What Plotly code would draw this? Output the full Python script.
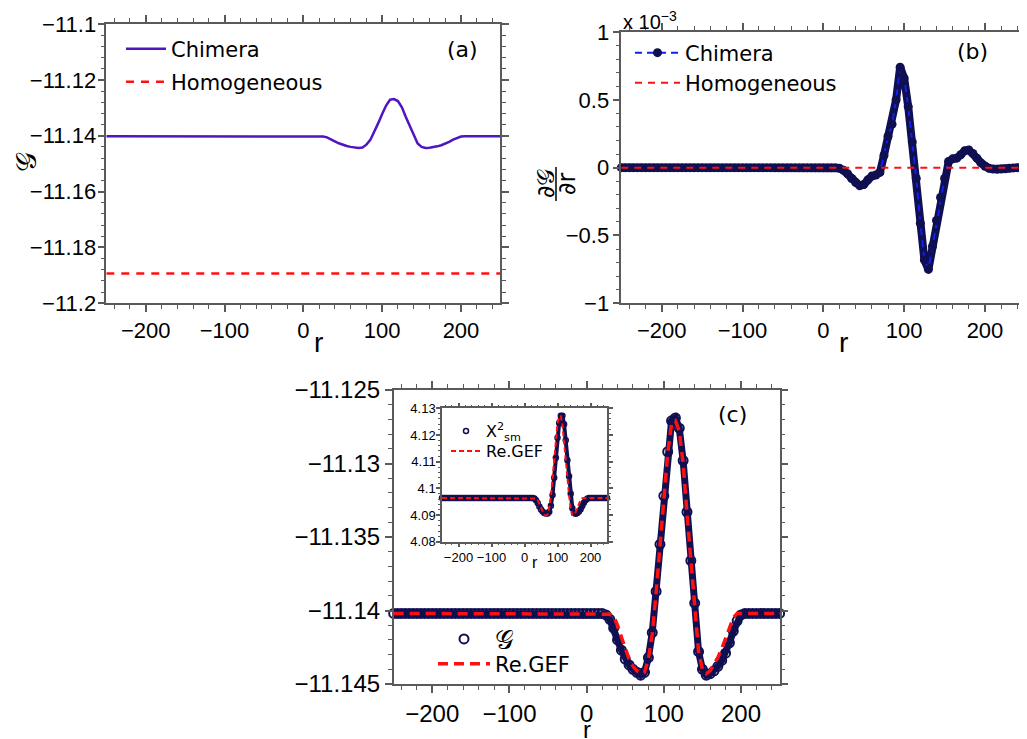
import plotly.graph_objects as go

# page body has an 8px margin: figure is drawn 8px right/down of the window origin
OFF = 8
W, H = 1027 - OFF, 739 - OFF

# sampling positions along r
r = list(range(-250, 251, 5))

# Panel (a)/(c): G (chimera)
G_chimera = [-11.1402] * 54 + [
    -11.1402, -11.1403, -11.1406, -11.1412, -11.1420, -11.1427, -11.1433, -11.1437,
    -11.1440, -11.1442, -11.1444, -11.1442, -11.1432, -11.1415, -11.1387, -11.1355,
    -11.1322, -11.1292, -11.1271, -11.1269, -11.1276, -11.1298, -11.1333, -11.1366,
    -11.1395, -11.1428, -11.1440, -11.1444, -11.1443, -11.1441, -11.1438, -11.1434,
    -11.1429, -11.1422, -11.1414, -11.1407, -11.1403] + [-11.1402] * 10

G_homog = [-11.1893] * len(r)

# Panel (c): Re.GEF fit
G_gef = [-11.1402] * 56 + [
    -11.14025, -11.1404, -11.1410, -11.1418, -11.1426, -11.1433, -11.1438, -11.1441,
    -11.1443, -11.1442, -11.1433, -11.1416, -11.1388, -11.1356, -11.1323, -11.1293,
    -11.1273, -11.1271, -11.1278, -11.1300, -11.1334, -11.1367, -11.1396, -11.1428,
    -11.1440, -11.1443, -11.1441, -11.1437, -11.1432, -11.1426, -11.1419, -11.1411,
    -11.1405] + [-11.1402] * 12

# Panel (b): dG/dr (units of 1e-3)
dG = [0.0] * 54 + [
    -0.005, -0.02, -0.045, -0.08, -0.11, -0.133, -0.125, -0.09, -0.062, -0.055,
    -0.035, 0.09, 0.23, 0.32, 0.5, 0.74, 0.66, 0.45, 0.19, -0.08, -0.41, -0.68,
    -0.75, -0.58, -0.39, -0.22, -0.08, 0.045, 0.065, 0.07, 0.095, 0.125, 0.13,
    0.105, 0.07, 0.035, 0.01, -0.005, -0.01, -0.012, -0.01, -0.008, -0.005,
    -0.002, 0.0, 0.0, 0.0]
dG_homog = [0.0] * len(r)

# Inset: X^2_sm and Re.GEF
X2_sm = [4.0964] * 56 + [
    4.0962, 4.0955, 4.0945, 4.0932, 4.0921, 4.0913, 4.0908, 4.0906, 4.0906, 4.0912,
    4.0935, 4.0975, 4.1040, 4.1115, 4.1190, 4.1245, 4.1272, 4.1272, 4.1240, 4.1180,
    4.1105, 4.1045, 4.0980, 4.0925, 4.0908, 4.0905, 4.0908, 4.0913, 4.0922, 4.0934,
    4.0946, 4.0955, 4.0961] + [4.0964] * 12
X2_gef = [4.0964] * 57 + [
    4.0962, 4.0955, 4.0942, 4.0927, 4.0912, 4.0902, 4.0898, 4.0902, 4.0928, 4.0970,
    4.1038, 4.1113, 4.1188, 4.1243, 4.1270, 4.1270, 4.1238, 4.1180, 4.1108, 4.1040,
    4.0975, 4.0925, 4.0900, 4.0900, 4.0910, 4.0928, 4.0945, 4.0957, 4.0963] + [4.0964] * 15

NAVY = '#0f0f52'
PURPLE = '#5014c0'
RED = '#ff1010'
AX = '#5a5a5a'
TICKF = 'Liberation Sans, Arial, sans-serif'
TXTF = 'DejaVu Sans, sans-serif'

fig = go.Figure()

# (a)
fig.add_trace(go.Scatter(x=r, y=G_chimera, mode='lines', name='Chimera',
                         line=dict(color=PURPLE, width=2.5), xaxis='x', yaxis='y', legend='legend'))
fig.add_trace(go.Scatter(x=r, y=G_homog, mode='lines', name='Homogeneous',
                         line=dict(color=RED, width=2.5, dash='8px,7px'), xaxis='x', yaxis='y', legend='legend2'))
# (b)
fig.add_trace(go.Scatter(x=r, y=dG, mode='lines', showlegend=False, cliponaxis=False,
                         line=dict(color=NAVY, width=8), xaxis='x2', yaxis='y2'))
fig.add_trace(go.Scatter(x=r, y=dG, mode='lines+markers', name='Chimera', cliponaxis=False,
                         line=dict(color='#1020ee', width=2, dash='7px,5px'),
                         marker=dict(color=NAVY, size=9), xaxis='x2', yaxis='y2', legend='legend3'))
fig.add_trace(go.Scatter(x=r, y=dG_homog, mode='lines', name='Homogeneous',
                         line=dict(color=RED, width=2, dash='7px,6px'), xaxis='x2', yaxis='y2', legend='legend4'))
# (c)
fig.add_trace(go.Scatter(x=r, y=G_chimera, mode='lines', showlegend=False, cliponaxis=False,
                         line=dict(color=NAVY, width=7), xaxis='x3', yaxis='y3'))
fig.add_trace(go.Scatter(x=r, y=G_chimera, mode='markers', name='𝒢', cliponaxis=False,
                         marker=dict(color=NAVY, size=9, symbol='circle-open', line=dict(color=NAVY, width=2)),
                         xaxis='x3', yaxis='y3', legend='legend5'))
fig.add_trace(go.Scatter(x=r, y=G_gef, mode='lines', name='Re.GEF',
                         line=dict(color=RED, width=3.5, dash='10px,6px'), xaxis='x3', yaxis='y3', legend='legend6'))
# inset
fig.add_trace(go.Scatter(x=r, y=X2_sm, mode='lines', showlegend=False, cliponaxis=False,
                         line=dict(color=NAVY, width=4), xaxis='x4', yaxis='y4'))
fig.add_trace(go.Scatter(x=r, y=X2_sm, mode='markers', name='X<sup>2</sup><sub>sm</sub>', cliponaxis=False,
                         marker=dict(color=NAVY, size=5, symbol='circle-open', line=dict(color=NAVY, width=1.5)),
                         xaxis='x4', yaxis='y4', legend='legend7'))
fig.add_trace(go.Scatter(x=r, y=X2_gef, mode='lines', name='Re.GEF',
                         line=dict(color=RED, width=2, dash='5px,3px'), xaxis='x4', yaxis='y4', legend='legend8'))


def px_x(p):
    return (p - OFF) / W


def px_y(p):
    return 1 - (p - OFF) / H


def axis(domain, rng, dtick, minor, anchor, fs, tl=7, mtl=4, so=0):
    return dict(domain=domain, range=rng, dtick=dtick, tick0=0, anchor=anchor, automargin=False,
                showline=True, linecolor=AX, linewidth=1.5, mirror='allticks',
                ticks='outside', ticklen=tl, tickwidth=1.5, tickcolor=AX,
                minor=dict(dtick=minor, ticks='outside', ticklen=mtl, tickwidth=1.2, tickcolor=AX),
                showgrid=False, zeroline=False, ticklabelstandoff=so,
                tickfont=dict(family=TICKF, size=fs, color='black'))


def leg(x, y, size, iw=40):
    return dict(x=px_x(x), y=px_y(y), xanchor='left', yanchor='middle', bgcolor='rgba(0,0,0,0)',
                itemwidth=iw, font=dict(family=TXTF, size=size, color='black'))


fig.update_layout(
    template='none',
    width=W, height=H, margin=dict(l=0, r=0, t=0, b=0, pad=0),
    paper_bgcolor='white', plot_bgcolor='white', showlegend=True,
    xaxis=axis([px_x(106.3), px_x(500.4)], [-250, 250], 100, 20, 'y', 22),
    yaxis=axis([px_y(303.3), px_y(24)], [-11.2, -11.1], 0.02, 0.004, 'x', 22, so=-3),
    xaxis2=axis([px_x(621.3), px_x(1025.4)], [-250, 250], 100, 20, 'y2', 22),
    yaxis2=axis([px_y(303.3), px_y(32)], [-1, 1], 0.5, 0.1, 'x2', 22, so=-1),
    xaxis3=axis([px_x(393.7), px_x(779.6)], [-250, 250], 100, 20, 'y3', 24),
    yaxis3=axis([px_y(684), px_y(390)], [-11.145, -11.125], 0.005, 0.001, 'x3', 24),
    xaxis4=axis([px_x(442), px_x(607)], [-250, 250], 100, 20, 'y4', 13, 4, 2, so=-1),
    yaxis4=axis([px_y(541.7), px_y(408.3)], [4.08, 4.13], 0.01, 0.002, 'x4', 13, 4, 2, so=-2),
    legend=leg(121, 49, 21),
    legend2=leg(121, 82, 21),
    legend3=leg(630, 53, 21, 45),
    legend4=leg(630, 83, 21, 45),
    legend5=leg(433, 639, 26, 52),
    legend6=leg(433, 664, 21, 52),
    legend7=leg(446, 431, 16, 30),
    legend8=leg(446, 451, 16, 30),
)

ann = []


def text(x, y, s, size, ang=0, xa='center', ya='middle', fam=TXTF):
    ann.append(dict(x=px_x(x), y=px_y(y), xref='paper', yref='paper', text=s, showarrow=False,
                    textangle=ang, xanchor=xa, yanchor=ya, font=dict(family=fam, size=size, color='black')))


text(462, 50, '(a)', 22)
text(972, 51, '(b)', 22)
text(732, 415, '(c)', 22)
text(27, 162, '𝒢', 28, ang=-90)
text(318, 343, 'r', 28, fam=TICKF)
text(843, 343, 'r', 28, fam=TICKF)
text(587, 729, 'r', 24, fam=TICKF)
text(535, 562, 'r', 16, fam=TICKF)
text(621, 20, 'x 10<sup>−3</sup>', 20, xa='left', fam=TICKF)
text(546, 184, '∂𝒢', 24, ang=-90)
text(567, 184, '∂r', 24, ang=-90)
fig.update_layout(annotations=ann)
fig.add_shape(type='line', xref='paper', yref='paper', x0=px_x(556), x1=px_x(556),
              y0=px_y(167), y1=px_y(201), line=dict(color='black', width=1.5))

fig.write_html('out.html')
